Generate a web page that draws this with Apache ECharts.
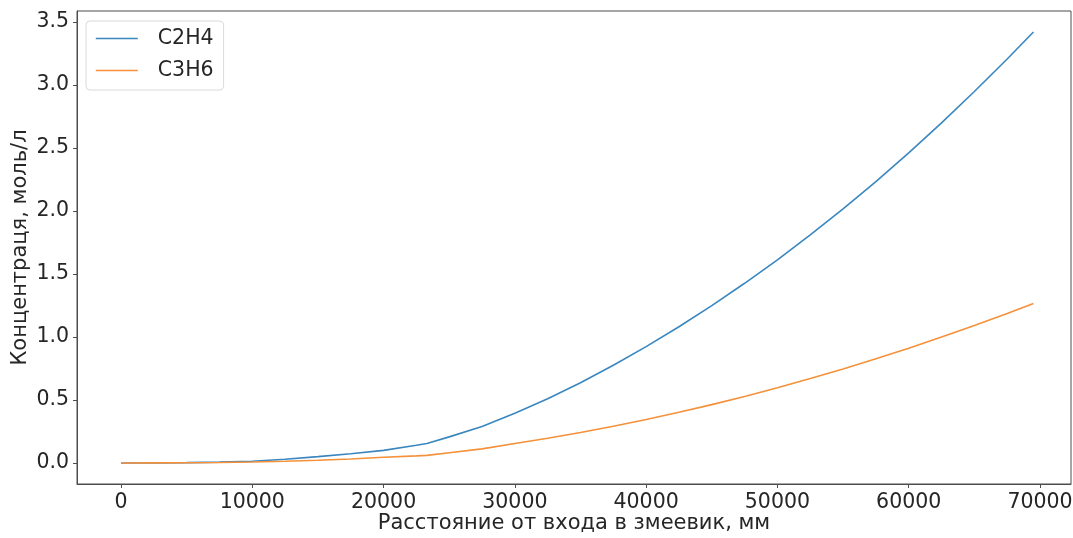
<!DOCTYPE html>
<html>
<head>
<meta charset="utf-8">
<script src="https://cdn.jsdelivr.net/npm/echarts@6/dist/echarts.min.js"></script>
<style>
    html, body { margin: 0; padding: 0; background: #fff; }
    #chart { width: 1073px; height: 538px; }
</style>
</head>
<body>
<div id="chart"></div>
<script>
// расстояние от входа, мм
const distance = [0, 2500, 5000, 7500, 10000, 12500, 15000, 17500, 20000, 22500, 23300,
    25000, 27500, 30000, 32500, 35000, 37500, 40000, 42500, 45000, 47500, 50000,
    52500, 55000, 57500, 60000, 62500, 65000, 67500, 69500];
// концентрация, моль/л
const c2h4 = [0, 0.001, 0.003, 0.007, 0.014, 0.03, 0.05, 0.073, 0.1, 0.14, 0.155,
    0.207, 0.29, 0.395, 0.51, 0.637, 0.775, 0.923, 1.081, 1.249, 1.426, 1.612,
    1.81, 2.016, 2.233, 2.461, 2.699, 2.948, 3.206, 3.42];
const c3h6 = [0, 0.001, 0.002, 0.004, 0.008, 0.014, 0.022, 0.032, 0.045, 0.056, 0.06,
    0.081, 0.112, 0.154, 0.196, 0.242, 0.291, 0.345, 0.402, 0.463, 0.528, 0.597,
    0.67, 0.746, 0.827, 0.911, 0.999, 1.091, 1.187, 1.266];
const xTicks = [0, 10000, 20000, 30000, 40000, 50000, 60000, 70000];
const yTicks = [0, 0.5, 1.0, 1.5, 2.0, 2.5, 3.0, 3.5];

const font = 'DejaVu Sans';
const textColor = '#262626';
const axisColor = '#4d4d4d';

const chart = echarts.init(document.getElementById('chart'));
chart.setOption({
    animation: false,
    backgroundColor: '#fff',
    grid: {
        left: 77, right: 2, top: 11, bottom: 54,
        containLabel: false, outerBoundsMode: 'none',
        show: true, borderColor: axisColor, borderWidth: 1
    },
    legend: {
        orient: 'vertical',
        left: 86, top: 21,
        padding: [7, 10, 9, 9],
        itemWidth: 42, itemHeight: 14,
        itemGap: 11,
        backgroundColor: 'rgba(255,255,255,0.8)',
        borderColor: '#d9d9d9', borderWidth: 1, borderRadius: 4,
        itemStyle: { opacity: 0 },
        lineStyle: { width: 1.6 },
        textStyle: {
            fontFamily: font, fontSize: 20.5, lineHeight: 20, color: textColor,
            padding: [0, 0, 0, 15]
        },
        data: ['C2H4', 'C3H6']
    },
    xAxis: {
        type: 'value',
        min: -3350, max: 72360,
        name: 'Расстояние от входа в змеевик, мм',
        nameLocation: 'middle', nameGap: 29, nameMoveOverlap: false,
        nameTextStyle: { fontFamily: font, fontSize: 21, color: textColor },
        splitLine: { show: false },
        axisLine: { show: true, onZero: false, lineStyle: { color: axisColor } },
        axisTick: { show: true, inside: false, length: 4, customValues: xTicks, lineStyle: { color: axisColor } },
        axisLabel: {
            customValues: xTicks, margin: 8, fontFamily: font, fontSize: 20.5, color: textColor,
            formatter: v => String(v)
        }
    },
    yAxis: {
        type: 'value',
        min: -0.167, max: 3.587,
        name: 'Концентраця, моль/л',
        nameLocation: 'middle', nameGap: 46, nameMoveOverlap: false,
        nameTextStyle: { fontFamily: font, fontSize: 21, color: textColor },
        splitLine: { show: false },
        axisLine: { show: true, onZero: false, lineStyle: { color: axisColor } },
        axisTick: { show: true, inside: false, length: 4, customValues: yTicks, lineStyle: { color: axisColor } },
        axisLabel: {
            customValues: yTicks, margin: 8, fontFamily: font, fontSize: 20.5, color: textColor,
            formatter: v => v.toFixed(1)
        }
    },
    series: [
        {
            name: 'C2H4', type: 'line', symbol: 'none', smooth: false,
            data: distance.map((d, i) => [d, c2h4[i]]),
            lineStyle: { color: '#3a87c0', width: 1.6 },
            itemStyle: { color: '#3a87c0' }
        },
        {
            name: 'C3H6', type: 'line', symbol: 'none', smooth: false,
            data: distance.map((d, i) => [d, c3h6[i]]),
            lineStyle: { color: '#f5913a', width: 1.6 },
            itemStyle: { color: '#f5913a' }
        }
    ]
});
</script>
</body>
</html>
